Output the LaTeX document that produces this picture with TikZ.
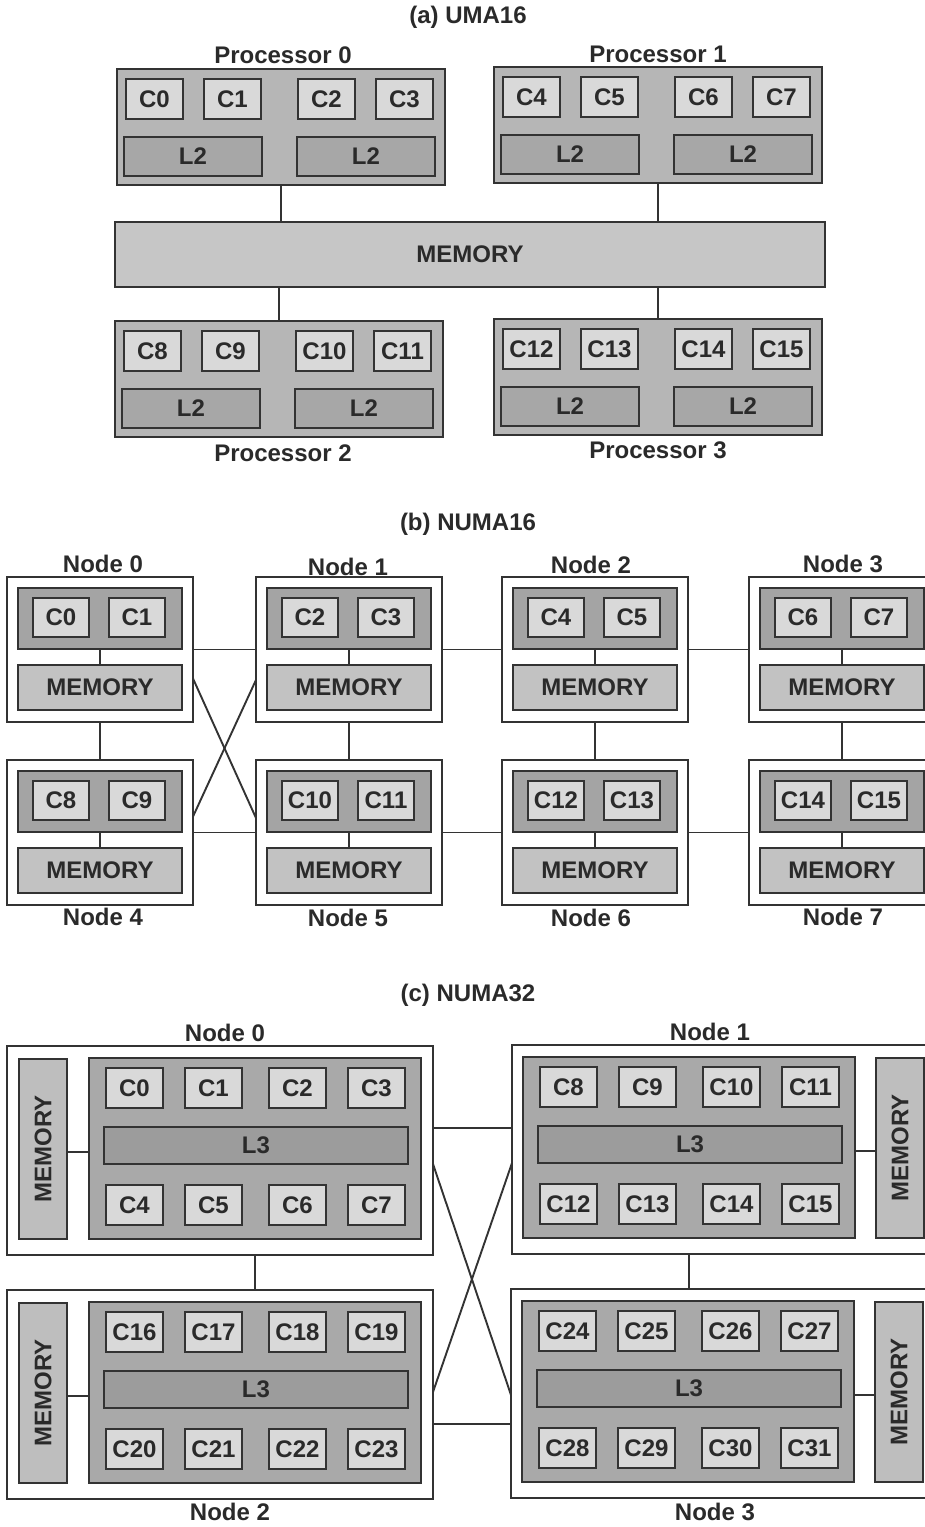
\documentclass[tikz,border=0pt]{standalone}
\usepackage{fontspec}
\setmainfont{Liberation Sans}
\usepackage{graphicx}
\usetikzlibrary{calc}
\definecolor{linec}{HTML}{333333}
\definecolor{textc}{HTML}{2A2A2A}
\definecolor{procc}{HTML}{B6B6B6}
\definecolor{corec}{HTML}{D9D9D9}
\definecolor{l2c}{HTML}{A7A7A7}
\definecolor{memac}{HTML}{C6C6C6}
\definecolor{cpubc}{HTML}{A4A4A4}
\definecolor{membc}{HTML}{C2C2C2}
\definecolor{cpucc}{HTML}{A9A9A9}
\definecolor{l3c}{HTML}{9C9C9C}
\definecolor{memcc}{HTML}{BEBEBE}
\newcommand{\bx}[7]{\node[#1,anchor=north west,minimum width=#5*0.5pt,minimum height=#6*0.5pt] (#2) at (#3,#4) {#7};}
\newcommand{\umaproc}[7]{%
  \bx{procbox}{#1}{#2}{#3}{328}{116}{}
  \bx{core}{#1c1}{#2+9}{#3+10}{57}{40}{#4}
  \bx{core}{#1c2}{#2+87}{#3+10}{57}{40}{#5}
  \bx{core}{#1c3}{#2+181}{#3+10}{57}{40}{#6}
  \bx{core}{#1c4}{#2+259}{#3+10}{57}{40}{#7}
  \bx{cache}{#1l1}{#2+7}{#3+68}{138}{39}{L2}
  \bx{cache}{#1l2}{#2+180}{#3+68}{138}{39}{L2}
}
\newcommand{\nsnode}[5]{%
  \bx{nodebox}{#1}{#2}{#3}{186}{145}{}
  \bx{cpub}{#1p}{#2+11}{#3+11}{164}{61}{}
  \bx{core}{#1a}{#2+26}{#3+21}{56}{39}{#4}
  \bx{core}{#1b}{#2+102}{#3+21}{56}{39}{#5}
  \bx{memb}{#1m}{#2+11}{#3+88}{164}{45}{MEMORY}
  \draw[link] (#1p.south) -- (#1m.north);
}
\newcommand{\ntnode}[8]{%
  \bx{nodebox}{#1}{#2}{#3}{426}{209}{}
  \bx{cpuc}{#1p}{#2+#4}{#3+12}{332}{181}{}
  \bx{memc}{#1m}{#2+#5}{#3+13}{48}{180}{\rotatebox{90}{MEMORY}}
  \foreach \k/\dx in {0/17,1/96,2/180,3/259}{
    \pgfmathtruncatemacro{\na}{#6+\k}
    \pgfmathtruncatemacro{\nb}{#6+\k+4}
    \bx{core}{#1a\k}{#2+#4+\dx}{#3+22}{57}{40}{C\na}
    \bx{core}{#1b\k}{#2+#4+\dx}{#3+139}{57}{40}{C\nb}
  }
  \bx{l3box}{#1l}{#2+#4+15}{#3+81}{304}{37}{L3}
  \draw[link] ([yshift=-1.5pt]#1m.#7) -- ([yshift=-1.5pt]#1m.#7 -| #1p.#8);
}
\begin{document}
\begin{tikzpicture}[x=0.5pt,y=-0.5pt,
  txt/.style={font=\fontsize{12}{14}\selectfont\bfseries, text=textc},
  box/.style={txt, draw=linec, line width=0.95pt, inner sep=0pt, outer sep=0pt},
  procbox/.style={box, fill=procc},
  core/.style={box, fill=corec},
  cache/.style={box, fill=l2c},
  mema/.style={box, fill=memac},
  nodebox/.style={box, fill=white},
  cpub/.style={box, fill=cpubc},
  memb/.style={box, fill=membc},
  cpuc/.style={box, fill=cpucc},
  l3box/.style={box, fill=l3c},
  memc/.style={box, fill=memcc},
  link/.style={draw=linec, line width=0.95pt},
  lbl/.style={txt, inner sep=0pt}]
\clip (0,0) rectangle (925,1527);
\fill[white] (0,0) rectangle (925,1527);

% ---------------- (a) UMA16
\node[lbl] (ta) at (468,17) {(a) UMA16};
\bx{mema}{mem}{115}{222}{710}{65}{MEMORY}
\umaproc{pa}{117}{69}{C0}{C1}{C2}{C3}
\umaproc{pb}{494}{67}{C4}{C5}{C6}{C7}
\umaproc{pc}{115}{321}{C8}{C9}{C10}{C11}
\umaproc{pd}{494}{319}{C12}{C13}{C14}{C15}
\node[lbl] (lpa) at (283,55) {Processor 0};
\node[lbl] (lpb) at (658,54) {Processor 1};
\node[lbl] (lpc) at (283,453) {Processor 2};
\node[lbl] (lpd) at (658,450) {Processor 3};
\draw[link] (pa.south) -- (pa.south |- mem.north);
\draw[link] (pb.south) -- (pb.south |- mem.north);
\draw[link] (pc.north) -- (pc.north |- mem.south);
\draw[link] (pd.north) -- (pd.north |- mem.south);

% ---------------- (b) NUMA16
\node[lbl] (tb) at (468,524) {(b) NUMA16};
\nsnode{na}{7}{577}{C0}{C1}
\nsnode{nb}{256}{577}{C2}{C3}
\nsnode{nc}{502}{577}{C4}{C5}
\nsnode{nd}{749}{577}{C6}{C7}
\nsnode{ne}{7}{760}{C8}{C9}
\nsnode{nf}{256}{760}{C10}{C11}
\nsnode{ng}{502}{760}{C12}{C13}
\nsnode{nh}{749}{760}{C14}{C15}
\node[lbl] (lna) at (103,564) {Node 0};
\node[lbl] (lnb) at (348,567) {Node 1};
\node[lbl] (lnc) at (591,565) {Node 2};
\node[lbl] (lnd) at (843,564) {Node 3};
\node[lbl] (lne) at (103,917) {Node 4};
\node[lbl] (lnf) at (348,918) {Node 5};
\node[lbl] (lng) at (591,918) {Node 6};
\node[lbl] (lnh) at (843,917) {Node 7};
\draw[link] (na.east) -- (nb.west);
\draw[link] (nb.east) -- (nc.west);
\draw[link] (nc.east) -- (nd.west);
\draw[link] (ne.east) -- (nf.west);
\draw[link] (nf.east) -- (ng.west);
\draw[link] (ng.east) -- (nh.west);
\draw[link] (na.south) -- (ne.north);
\draw[link] (nb.south) -- (nf.north);
\draw[link] (nc.south) -- (ng.north);
\draw[link] (nd.south) -- (nh.north);
\draw[link] ($(na.north east)!0.7!(na.south east)$) -- ($(nf.north west)!0.4!(nf.south west)$);
\draw[link] ($(nb.north west)!0.71!(nb.south west)$) -- ($(ne.north east)!0.39!(ne.south east)$);

% ---------------- (c) NUMA32
\node[lbl] (tc) at (468,995) {(c) NUMA32};
\ntnode{da}{7}{1046}{82}{12}{0}{east}{west}
\ntnode{db}{512}{1045}{11}{364}{8}{west}{east}
\ntnode{dc}{7}{1290}{82}{12}{16}{east}{west}
\ntnode{dd}{511}{1289}{11}{364}{24}{west}{east}
\node[lbl] (lda) at (225,1033) {Node 0};
\node[lbl] (ldb) at (710,1032) {Node 1};
\node[lbl] (ldc) at (230,1512) {Node 2};
\node[lbl] (ldd) at (715,1512) {Node 3};
\draw[link] (dap |- da.south) -- (dap |- dc.north);
\draw[link] (dbp |- db.south) -- (dbp |- dd.north);
\draw[link] (da.east |- 0,1128) -- (db.west |- 0,1128);
\draw[link] (dc.east |- 0,1424) -- (dd.west |- 0,1424);
\draw[link] (da.east |- 0,1164) -- (dd.west |- 0,1395);
\draw[link] (db.west |- 0,1163) -- (dc.east |- 0,1392);
\end{tikzpicture}
\end{document}
